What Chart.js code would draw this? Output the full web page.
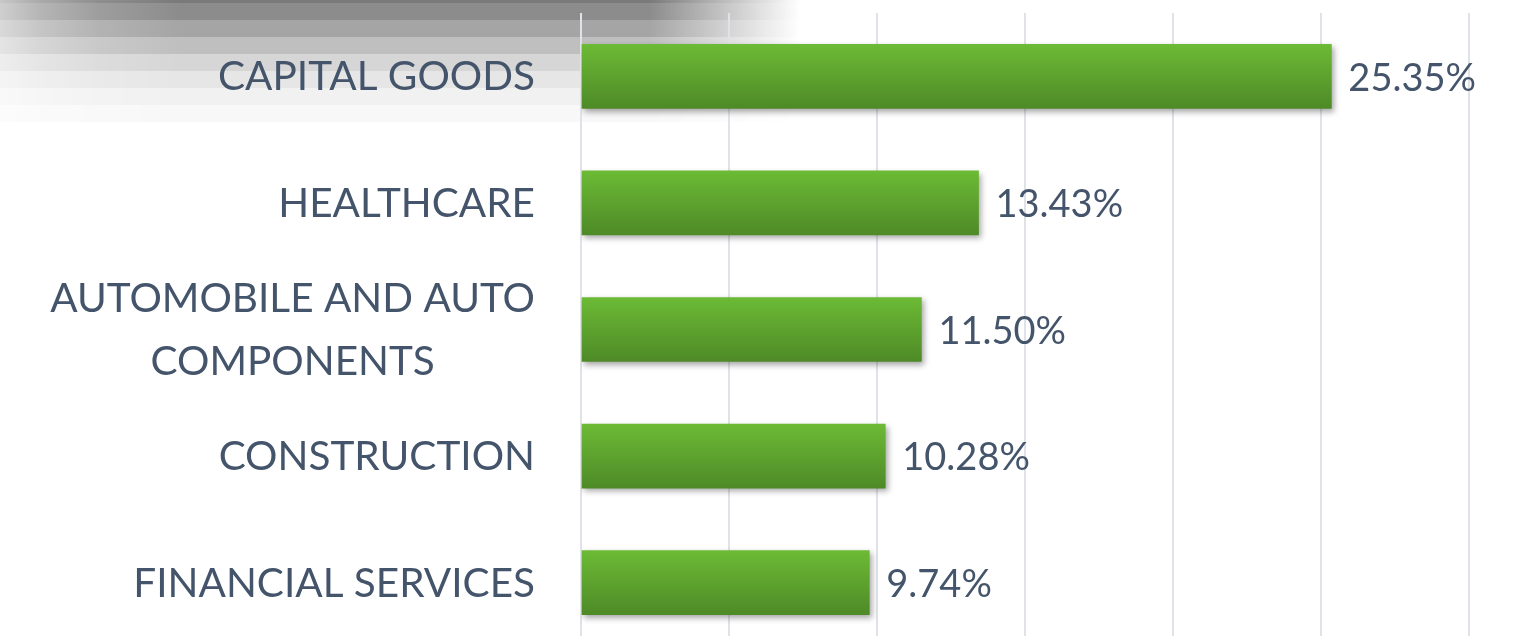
<!DOCTYPE html>
<html>
<head>
<meta charset="utf-8">
<script src="https://cdn.jsdelivr.net/npm/chart.js@4"></script>
<style>
  html, body { margin: 0; padding: 0; background: #fff; overflow: hidden; }
  #wrap { position: relative; width: 1518px; height: 646px; }
  #deco {
    position: absolute; left: 0; top: 0; width: 810px; height: 125px;
    background: linear-gradient(to bottom,
      #7a7a7a 0px, #7a7a7a 3px, #8c8c8c 3px, #8c8c8c 20px,
      #a5a5a5 20px, #a5a5a5 37px, #bfbfbf 37px, #bfbfbf 54px,
      #d6d6d6 54px, #d6d6d6 71px, #e6e6e6 71px, #e6e6e6 88px,
      #f1f1f1 88px, #f1f1f1 105px, #f8f8f8 105px, #f8f8f8 122px, #fff 122px);
    -webkit-mask-image: linear-gradient(to right, rgba(0,0,0,0.42) 0px, rgba(0,0,0,0.64) 40px, rgba(0,0,0,0.85) 100px, #000 180px, #000 650px, rgba(0,0,0,0) 800px);
    mask-image: linear-gradient(to right, rgba(0,0,0,0.42) 0px, rgba(0,0,0,0.64) 40px, rgba(0,0,0,0.85) 100px, #000 180px, #000 650px, rgba(0,0,0,0) 800px);
  }
  canvas { position: absolute; left: 0; top: 0; }
</style>
</head>
<body>
<div id="wrap">
  <div id="deco"></div>
  <canvas id="chart" width="1518" height="646"></canvas>
</div>
<script>
const categories = [
  ['CAPITAL GOODS'],
  ['HEALTHCARE'],
  ['AUTOMOBILE AND AUTO', 'COMPONENTS'],
  ['CONSTRUCTION'],
  ['FINANCIAL SERVICES']
];
const shares = [25.35, 13.43, 11.50, 10.28, 9.74];
const xTicks = [0, 5, 10, 15, 20, 25, 30];

const TEXT = '#44546A';
const CAT_FONT = '40.5px Lato';
const VAL_FONT = '38px Lato';

const barGradient = ctx => {
  const chart = ctx.chart;
  if (!chart.chartArea || ctx.type !== 'data') return '#5fa52f';
  const y = chart.scales.y.getPixelForValue(ctx.dataIndex);
  const g = chart.ctx.createLinearGradient(0, y - 32, 0, y + 32);
  g.addColorStop(0, '#6cba35');
  g.addColorStop(1, '#4e8a27');
  return g;
};

const textPlugin = {
  id: 'texts',
  beforeDatasetsDraw(chart) {
    const c = chart.ctx;
    c.save();
    c.shadowColor = 'rgba(0,0,0,0.35)';
    c.shadowBlur = 6;
    c.shadowOffsetX = 2;
    c.shadowOffsetY = 3;
  },
  afterDatasetsDraw(chart) {
    const c = chart.ctx;
    c.restore();
    const xs = chart.scales.x, ys = chart.scales.y;
    c.save();
    c.fillStyle = TEXT;
    c.textBaseline = 'middle';
    // category labels: block right-aligned, lines centred inside it
    c.font = CAT_FONT;
    const right = chart.chartArea.left - 46;
    categories.forEach((lines, i) => {
      const w = Math.max(...lines.map(l => c.measureText(l).width));
      const cx = right - w / 2;
      const cy = ys.getPixelForValue(i);
      c.textAlign = 'center';
      lines.forEach((l, k) => {
        c.fillText(l, cx, cy + (k - (lines.length - 1) / 2) * 63 + 1);
      });
    });
    // value labels
    c.font = VAL_FONT;
    c.textAlign = 'left';
    shares.forEach((v, i) => {
      c.fillText(v.toFixed(2) + '%', xs.getPixelForValue(v) + 17, ys.getPixelForValue(i) + 2);
    });
    c.restore();
  }
};

new Chart(document.getElementById('chart'), {
  type: 'bar',
  data: {
    labels: categories.map(l => l.join(' ')),
    datasets: [{
      data: shares,
      backgroundColor: barGradient,
      borderWidth: 0,
      barThickness: 64
    }]
  },
  options: {
    indexAxis: 'y',
    responsive: false,
    animation: false,
    layout: { padding: { top: 13, right: 49, bottom: 0, left: 0 } },
    plugins: { legend: { display: false }, tooltip: { enabled: false } },
    scales: {
      x: {
        min: 0, max: 30,
        afterBuildTicks: s => { s.ticks = xTicks.map(v => ({ value: v })); },
        ticks: { display: false },
        grid: { color: '#dfe3e8', lineWidth: 2, drawTicks: false },
        border: { display: false }
      },
      y: {
        ticks: { display: false },
        grid: { display: false, drawTicks: false },
        border: { display: false },
        afterFit: s => { s.width = 581; }
      }
    }
  },
  plugins: [textPlugin]
});
</script>
</body>
</html>
